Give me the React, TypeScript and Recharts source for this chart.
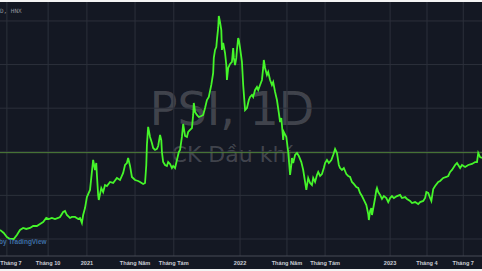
import React from "react";
import { LineChart, Line, XAxis, YAxis, CartesianGrid, ReferenceLine } from "recharts";

// trading-session index (from late June 2020) and close price (thousand VND)
const sessionIndex = [
  0, 6, 11, 16, 22, 27, 32, 37, 42, 48, 53, 59, 64, 69, 74, 78, 83, 88, 93, 96,
  101, 104, 107, 112, 115, 120, 125, 128, 131, 133, 136, 139, 144, 147, 149, 152, 154, 155, 157, 158,
  162, 165, 168, 171, 176, 181, 187, 192, 197, 200, 203, 205, 208, 211, 216, 221, 224, 229, 232, 234,
  235, 237, 240, 243, 245, 248, 251, 253, 256, 258, 259, 261, 264, 267, 269, 272, 275, 277, 280, 283,
  286, 288, 291, 293, 296, 299, 301, 304, 307, 309, 310, 312, 315, 318, 322, 325, 328, 331, 334, 338,
  341, 342, 344, 346, 347, 349, 350, 352, 354, 355, 357, 360, 362, 363, 365, 368, 371, 373, 374, 376,
  378, 379, 381, 382, 384, 387, 389, 392, 395, 398, 400, 403, 405, 408, 411, 413, 416, 419, 421, 422,
  424, 427, 429, 432, 435, 437, 440, 443, 446, 448, 450, 453, 454, 458, 461, 464, 466, 467, 469, 472,
  475, 478, 482, 485, 488, 490, 493, 496, 499, 501, 504, 507, 509, 512, 515, 518, 520, 523, 526, 530,
  533, 536, 539, 542, 544, 547, 550, 554, 557, 560, 563, 566, 570, 573, 576, 579, 582, 586, 587, 589,
  590, 592, 594, 595, 598, 600, 602, 603, 605, 608, 611, 614, 618, 621, 624, 627, 630, 635, 640, 643,
  648, 651, 656, 659, 664, 669, 672, 677, 680, 682, 685, 688, 690, 693, 696, 701, 704, 709, 714, 717,
  720, 723, 728, 731, 736, 739, 744, 749, 755, 760, 763, 765, 768, 771,
];

const closePrice = [
  2.83, 2.55, 2.18, 2.0, 2.0, 2.37, 2.83, 3.01, 2.92, 3.01, 3.19, 3.19, 3.38, 3.56, 3.93, 3.83, 3.93, 3.83, 3.93, 4.02,
  4.48, 4.57, 4.2, 3.93, 4.02, 4.02, 3.83, 3.93, 3.47, 4.2, 4.84, 5.85, 6.5, 8.15, 9.25, 8.33, 8.97, 7.87, 6.04, 5.58,
  6.68, 6.31, 6.95, 6.86, 7.23, 7.14, 7.6, 7.41, 8.06, 8.79, 8.97, 9.43, 8.7, 7.69, 7.41, 7.32, 7.23, 7.05, 7.14, 8.79,
  10.62, 12.28, 11.36, 10.81, 10.35, 10.17, 10.26, 10.53, 11.54, 11.08, 9.98, 9.06, 8.79, 8.7, 9.06, 8.88, 8.51, 8.7, 8.51, 9.25,
  9.98, 10.17, 11.36, 12.55, 11.45, 11.36, 11.82, 12.0, 12.18, 13.38, 14.48, 13.65, 13.38, 13.19, 13.28, 13.38, 14.02, 14.75, 15.03, 16.13,
  17.23, 18.61, 19.34, 19.61, 20.26, 21.36, 22.46, 21.9, 21.17, 19.34, 19.98, 19.06, 17.96, 16.59, 17.69, 18.06, 18.24, 19.52, 18.61, 17.96,
  18.61, 19.34, 20.44, 20.26, 19.52, 18.24, 16.13, 13.83, 14.02, 14.75, 15.03, 15.21, 15.03, 15.67, 15.94, 15.67, 16.13, 16.59, 17.69, 18.42,
  17.69, 17.05, 17.32, 16.59, 16.13, 16.4, 15.49, 14.75, 13.56, 12.73, 13.1, 11.08, 11.82, 11.36, 9.98, 7.87, 8.79, 9.43, 8.97, 9.71,
  9.89, 9.61, 9.06, 8.33, 7.23, 6.5, 7.6, 7.14, 6.95, 7.6, 7.23, 7.87, 8.15, 7.78, 7.96, 8.51, 8.97, 9.25, 8.97, 9.25,
  9.71, 10.26, 9.89, 8.79, 8.51, 8.33, 8.51, 7.96, 7.78, 7.69, 7.23, 7.05, 6.77, 6.68, 6.22, 5.94, 5.58, 5.12, 4.84, 4.29,
  3.74, 4.57, 4.84, 4.2, 5.12, 5.76, 6.5, 6.68, 6.31, 6.04, 5.67, 5.94, 5.76, 5.39, 5.76, 5.94, 5.76, 5.94, 6.04, 5.76,
  5.85, 5.67, 5.49, 5.3, 5.39, 5.21, 5.39, 5.49, 5.76, 6.31, 6.22, 5.76, 5.49, 6.59, 6.86, 7.23, 7.32, 7.6, 7.69, 7.78,
  8.15, 8.33, 8.79, 8.97, 8.51, 8.79, 8.61, 8.79, 8.88, 9.06, 9.06, 9.89, 9.52, 9.43,
];

const xTicks = [11, 77, 139, 216, 278, 384, 459, 520, 624, 683, 741];
const xTickLabels = [
  "Tháng 7", "Tháng 10", "2021", "Tháng Năm", "Tháng Tám", "2022",
  "Tháng Năm", "Tháng Tám", "2023", "Tháng 4", "Tháng 7",
];
const yTicks = [2, 4, 6, 8, 10, 12, 14, 16, 18, 20, 22];
const lastPriceLine = 9.92;

const data = sessionIndex.map((s, i) => ({ s, v: closePrice[i] }));

const AxisTick = (props: any) => {
  const { x, y, payload } = props;
  const idx = xTicks.indexOf(payload.value);
  const label = idx >= 0 ? xTickLabels[idx] : "";
  const cx = Math.max(x, 11);
  return (
    <text
      x={cx}
      y={y + 9}
      textAnchor="middle"
      fontSize={5.6}
      fontWeight={600}
      fontFamily="Liberation Sans, Arial, sans-serif"
      fill="#c9ccd3"
    >
      {label}
    </text>
  );
};

export default function App() {
  return (
    <div style={{ position: "absolute", left: 0, top: 0, width: 482, height: 271, background: "#f4f4f4", overflow: "hidden" }}>
      <div style={{ position: "absolute", left: 0, top: 2, width: 482, height: 267, background: "#141823" }} />
      <svg width={482} height={271} style={{ position: "absolute", left: 0, top: 0 }}>
        <text x={232} y={125} textAnchor="middle" fontSize={46} fontFamily="DejaVu Sans, sans-serif" fill="#ffffff" fillOpacity={0.2}>
          PSI, 1D
        </text>
        <text x={232} y={162} textAnchor="middle" fontSize={22} fontFamily="DejaVu Sans, sans-serif" fill="#ffffff" fillOpacity={0.2}>
          CK Dầu khí
        </text>
      </svg>
      <div style={{ position: "absolute", left: 0, top: 0 }}>
        <LineChart width={482} height={271} data={data} margin={{ top: 2, right: 0, bottom: 2, left: 0 }}>
          <CartesianGrid stroke="#2c303b" strokeWidth={1} horizontalValues={yTicks} verticalValues={xTicks} />
          <XAxis
            dataKey="s"
            type="number"
            domain={[0, 771]}
            ticks={xTicks}
            interval={0}
            height={13}
            tickLine={false}
            tickSize={0}
            tickMargin={0}
            axisLine={{ stroke: "#464a56" }}
            tick={<AxisTick />}
            allowDataOverflow
          />
          <YAxis hide type="number" domain={[0.44, 23.74]} ticks={yTicks} allowDataOverflow />
          <ReferenceLine y={lastPriceLine} stroke="#4f7f38" strokeWidth={1} />
          <Line type="linear" dataKey="v" stroke="#45f52a" strokeWidth={1.8} dot={false} isAnimationActive={false} />
        </LineChart>
      </div>
      <svg width={482} height={271} style={{ position: "absolute", left: 0, top: 0, pointerEvents: "none" }}>
        <text x={0} y={13} fontSize={6} fontFamily="DejaVu Sans Mono, monospace" fill="#8f929b">
          D, HNX
        </text>
        <text x={-1} y={244} fontSize={6.5} fontWeight={600} fontFamily="Liberation Sans, Arial, sans-serif" fill="#3f6fa6">
          by TradingView
        </text>
      </svg>
    </div>
  );
}
